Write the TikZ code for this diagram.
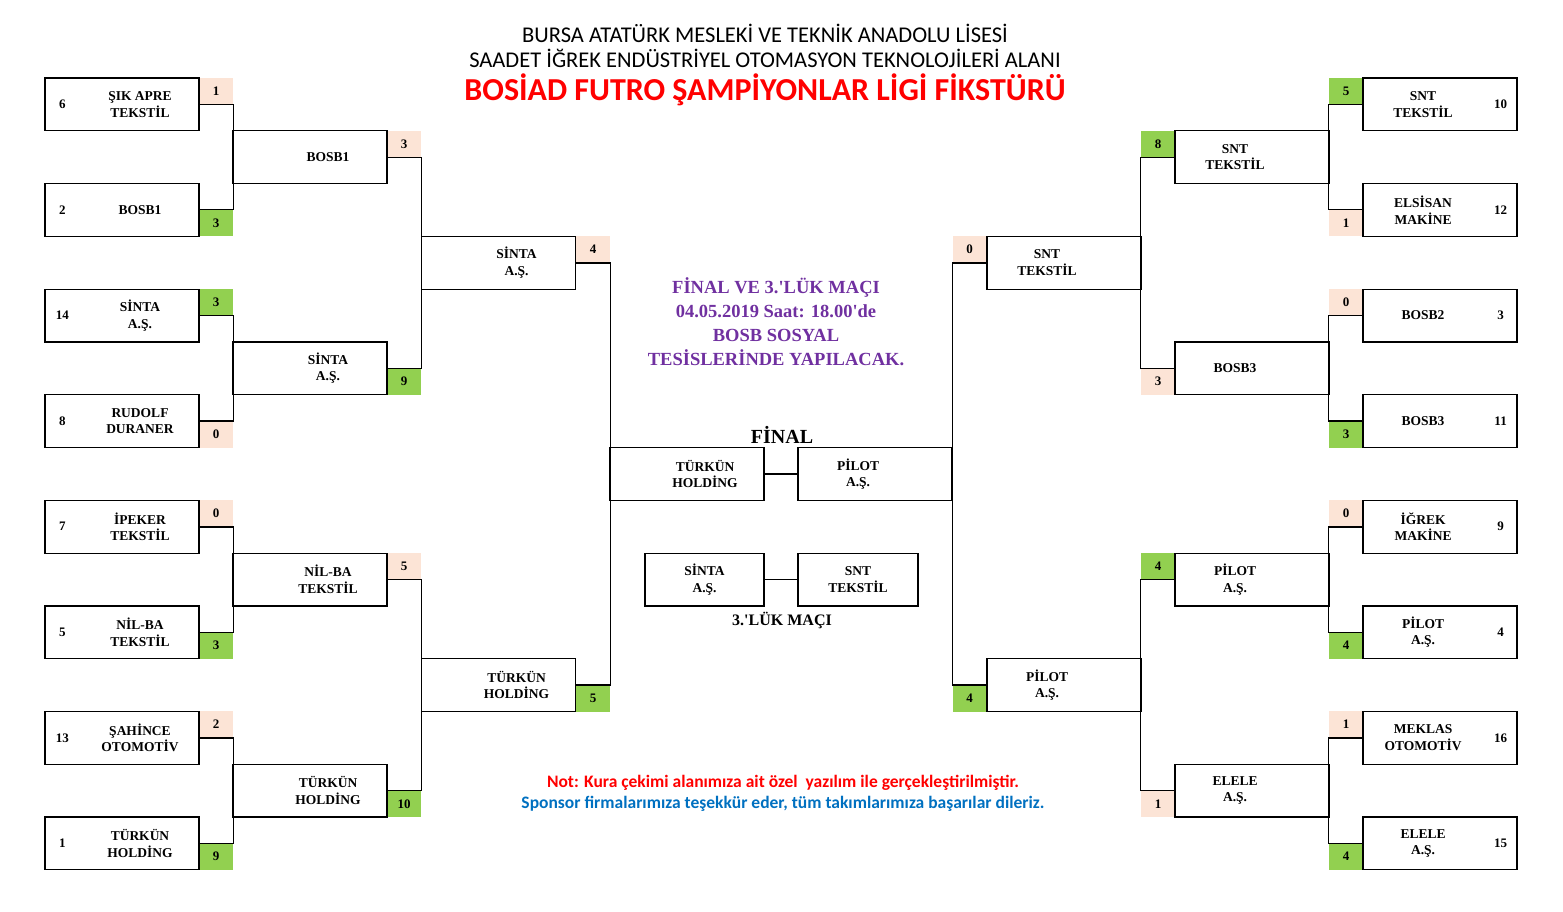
\documentclass[tikz,border=0pt]{standalone}
\usepackage{fontspec}
\setmainfont{Liberation Serif}
\newfontfamily\calibri{Carlito}
\definecolor{wingreen}{HTML}{92D050}
\definecolor{losepink}{HTML}{FCE4D6}
\definecolor{mor}{HTML}{7030A0}
\definecolor{titlered}{HTML}{FF0000}
\definecolor{notblue}{HTML}{0070C0}

\begin{document}
\begin{tikzpicture} [
    x=1pt, y=-1pt,
    team/.style = {rectangle, draw, line width=1.2pt, minimum width=154pt, minimum height=52.8pt, inner sep=0pt},
    teamname/.style = {font=\fontsize{13.5}{16.5}\selectfont\bfseries, align=center, inner sep=0pt},
    lname/.style = {teamname, xshift=18pt},
    rname/.style = {teamname, xshift=-17pt},
    seed/.style = {font=\fontsize{13}{15}\selectfont\bfseries, inner sep=0pt, anchor=center},
    lseed/.style = {seed, xshift=18pt},
    rseed/.style = {seed, xshift=-17pt},
    cell/.style = {rectangle, minimum width=34pt, minimum height=26.4pt, inner sep=0pt, font=\fontsize{13}{15}\selectfont\bfseries},
    wincell/.style = {cell, fill=wingreen},
    losecell/.style = {cell, fill=losepink},
    bracket/.style = {draw, line width=1.2pt}
    ]
    \useasboundingbox (0,0) rectangle (1563,911);

    \node[font=\calibri\fontsize{22.5}{26}\selectfont] (okul) at (765,33) {BURSA ATATÜRK MESLEKİ VE TEKNİK ANADOLU LİSESİ};
    \node[font=\calibri\fontsize{22.5}{26}\selectfont] (alan) at (765,58) {SAADET İĞREK ENDÜSTRİYEL OTOMASYON TEKNOLOJİLERİ ALANI};
    \node[font=\calibri\bfseries\fontsize{32}{36}\selectfont, text=titlered] (baslik) at (765,90) {BOSİAD FUTRO ŞAMPİYONLAR LİGİ FİKSTÜRÜ};

    \node[losecell] (l1c) at (216,91.2) {1};
    \node[wincell] (l2c) at (216,223.2) {3};
    \node[wincell] (l3c) at (216,302.3) {3};
    \node[losecell] (l4c) at (216,434.3) {0};
    \node[losecell] (l5c) at (216,513.5) {0};
    \node[wincell] (l6c) at (216,645.5) {3};
    \node[losecell] (l7c) at (216,724.6) {2};
    \node[wincell] (l8c) at (216,856.6) {9};
    \node[losecell] (m1c) at (404,144.0) {3};
    \node[wincell] (m2c) at (404,381.5) {9};
    \node[losecell] (m3c) at (404,566.3) {5};
    \node[wincell] (m4c) at (404,803.8) {10};
    \node[losecell] (n1c) at (593,249.6) {4};
    \node[wincell] (n2c) at (593,698.3) {5};

    \node[wincell] (r1c) at (1346,91.2) {5};
    \node[losecell] (r2c) at (1346,223.2) {1};
    \node[losecell] (r3c) at (1346,302.3) {0};
    \node[wincell] (r4c) at (1346,434.3) {3};
    \node[losecell] (r5c) at (1346,513.5) {0};
    \node[wincell] (r6c) at (1346,645.5) {4};
    \node[losecell] (r7c) at (1346,724.6) {1};
    \node[wincell] (r8c) at (1346,856.6) {4};
    \node[wincell] (s1c) at (1158,144.0) {8};
    \node[losecell] (s2c) at (1158,381.5) {3};
    \node[wincell] (s3c) at (1158,566.3) {4};
    \node[losecell] (s4c) at (1158,803.8) {1};
    \node[losecell] (t1c) at (969.5,249.6) {0};
    \node[wincell] (t2c) at (969.5,698.3) {4};

    \node[team, label={[lseed]west:6}, label={[lname]center:ŞIK APRE\\TEKSTİL}] (l1) at (122,104.4) {};
    \node[team, label={[lseed]west:2}, label={[lname]center:BOSB1}] (l2) at (122,210.0) {};
    \node[team, label={[lseed]west:14}, label={[lname]center:SİNTA\\A.Ş.}] (l3) at (122,315.5) {};
    \node[team, label={[lseed]west:8}, label={[lname]center:RUDOLF\\DURANER}] (l4) at (122,421.1) {};
    \node[team, label={[lseed]west:7}, label={[lname]center:İPEKER\\TEKSTİL}] (l5) at (122,526.7) {};
    \node[team, label={[lseed]west:5}, label={[lname]center:NİL-BA\\TEKSTİL}] (l6) at (122,632.3) {};
    \node[team, label={[lseed]west:13}, label={[lname]center:ŞAHİNCE\\OTOMOTİV}] (l7) at (122,737.8) {};
    \node[team, label={[lseed]west:1}, label={[lname]center:TÜRKÜN\\HOLDİNG}] (l8) at (122,843.4) {};
    \node[team, label={[lname]center:BOSB1}] (m1) at (310,157.2) {};
    \node[team, label={[lname]center:SİNTA\\A.Ş.}] (m2) at (310,368.3) {};
    \node[team, label={[lname]center:NİL-BA\\TEKSTİL}] (m3) at (310,579.5) {};
    \node[team, label={[lname]center:TÜRKÜN\\HOLDİNG}] (m4) at (310,790.6) {};
    \node[team, label={[lname]center:SİNTA\\A.Ş.}] (n1) at (498.5,262.8) {};
    \node[team, label={[lname]center:TÜRKÜN\\HOLDİNG}] (n2) at (498.5,685.1) {};

    \node[team, label={[rseed]east:10}, label={[rname]center:SNT\\TEKSTİL}] (r1) at (1440,104.4) {};
    \node[team, label={[rseed]east:12}, label={[rname]center:ELSİSAN\\MAKİNE}] (r2) at (1440,210.0) {};
    \node[team, label={[rseed]east:3}, label={[rname]center:BOSB2}] (r3) at (1440,315.5) {};
    \node[team, label={[rseed]east:11}, label={[rname]center:BOSB3}] (r4) at (1440,421.1) {};
    \node[team, label={[rseed]east:9}, label={[rname]center:İĞREK\\MAKİNE}] (r5) at (1440,526.7) {};
    \node[team, label={[rseed]east:4}, label={[rname]center:PİLOT\\A.Ş.}] (r6) at (1440,632.3) {};
    \node[team, label={[rseed]east:16}, label={[rname]center:MEKLAS\\OTOMOTİV}] (r7) at (1440,737.8) {};
    \node[team, label={[rseed]east:15}, label={[rname]center:ELELE\\A.Ş.}] (r8) at (1440,843.4) {};
    \node[team, label={[rname]center:SNT\\TEKSTİL}] (s1) at (1252,157.2) {};
    \node[team, label={[rname]center:BOSB3}] (s2) at (1252,368.3) {};
    \node[team, label={[rname]center:PİLOT\\A.Ş.}] (s3) at (1252,579.5) {};
    \node[team, label={[rname]center:ELELE\\A.Ş.}] (s4) at (1252,790.6) {};
    \node[team, label={[rname]center:SNT\\TEKSTİL}] (t1) at (1064,262.8) {};
    \node[team, label={[rname]center:PİLOT\\A.Ş.}] (t2) at (1064,685.1) {};

    \node[team, label={[lname]center:TÜRKÜN\\HOLDİNG}] (fl) at (687,473.9) {};
    \node[team, label={[rname]center:PİLOT\\A.Ş.}] (fr) at (875,473.9) {};
    \node[team, minimum width=119pt, label={[teamname]center:SİNTA\\A.Ş.}] (ul) at (704.5,579.5) {};
    \node[team, minimum width=120pt, label={[teamname]center:SNT\\TEKSTİL}] (ur) at (858,579.5) {};

    \node[font=\bfseries\fontsize{20}{24}\selectfont] (finalyazi) at (782,435) {FİNAL};
    \node[font=\bfseries\fontsize{16}{19}\selectfont] (ucluk) at (782,620) {3.\textquotesingle LÜK MAÇI};
    \node[font=\bfseries\fontsize{18.5}{24}\selectfont, text=mor, align=center] (bilgi) at (776,322) {FİNAL VE 3.\textquotesingle LÜK MAÇI\\04.05.2019 Saat: 18.00\textquotesingle de\\BOSB SOSYAL\\TESİSLERİNDE YAPILACAK.};
    \node[font=\calibri\bfseries\fontsize{17.5}{20}\selectfont, text=titlered] (not1) at (783,783) {Not: Kura çekimi alanımıza ait özel\ \ yazılım ile gerçekleştirilmiştir.};
    \node[font=\calibri\bfseries\fontsize{17.5}{20}\selectfont, text=notblue] (not2) at (783,804) {Sponsor firmalarımıza teşekkür eder, tüm takımlarımıza başarılar dileriz.};

    \draw[bracket] (l1c.south west) -- (l1c.south east) -- (l2c.north east) -- (l2c.north west);
    \draw[bracket] (l3c.south west) -- (l3c.south east) -- (l4c.north east) -- (l4c.north west);
    \draw[bracket] (l5c.south west) -- (l5c.south east) -- (l6c.north east) -- (l6c.north west);
    \draw[bracket] (l7c.south west) -- (l7c.south east) -- (l8c.north east) -- (l8c.north west);
    \draw[bracket] (m1c.south west) -- (m1c.south east) -- (m2c.north east) -- (m2c.north west);
    \draw[bracket] (m3c.south west) -- (m3c.south east) -- (m4c.north east) -- (m4c.north west);
    \draw[bracket] (n1c.south west) -- (n1c.south east) -- (n2c.north east) -- (n2c.north west);

    \draw[bracket] (r1c.south east) -- (r1c.south west) -- (r2c.north west) -- (r2c.north east);
    \draw[bracket] (r3c.south east) -- (r3c.south west) -- (r4c.north west) -- (r4c.north east);
    \draw[bracket] (r5c.south east) -- (r5c.south west) -- (r6c.north west) -- (r6c.north east);
    \draw[bracket] (r7c.south east) -- (r7c.south west) -- (r8c.north west) -- (r8c.north east);
    \draw[bracket] (s1c.south east) -- (s1c.south west) -- (s2c.north west) -- (s2c.north east);
    \draw[bracket] (s3c.south east) -- (s3c.south west) -- (s4c.north west) -- (s4c.north east);
    \draw[bracket] (t1c.south east) -- (t1c.south west) -- (t2c.north west) -- (t2c.north east);

    \draw[bracket] (fl.east) -- (fr.west);
    \draw[bracket] (ul.east) -- (ur.west);

\end{tikzpicture}
\end{document}
